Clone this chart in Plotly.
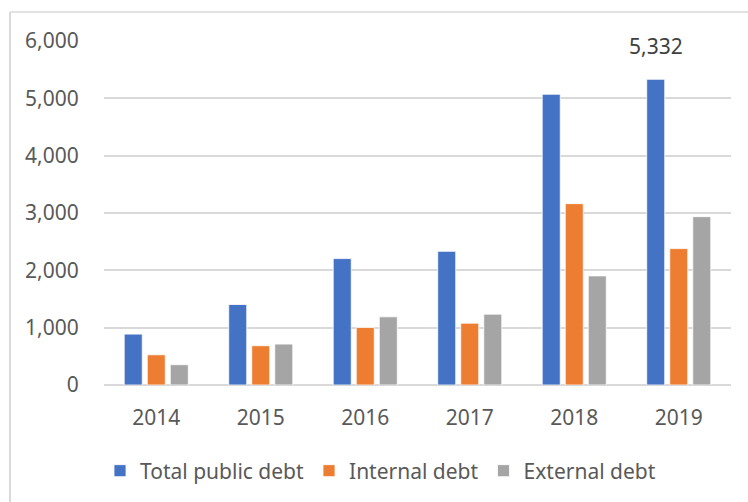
import plotly.graph_objects as go

years = ["2014", "2015", "2016", "2017", "2018", "2019"]
total_debt = [888, 1404, 2205, 2332, 5071, 5332]
internal_debt = [527, 685, 1004, 1079, 3163, 2379]
external_debt = [354, 714, 1189, 1236, 1903, 2936]
series_names = ["Total public debt", "Internal debt", "External debt"]
colors = ["#4472C4", "#ED7D31", "#A5A5A5"]
y_ticks = [0, 1000, 2000, 3000, 4000, 5000, 6000]

W, H = 748, 502
L, R, T, B = 104, 17, 41, 116
pw, ph = W - L - R, H - T - B

def px_x(x):
    return (x - L) / pw

def px_y(y):
    return (H - B - y) / ph

fig = go.Figure()
for name, vals, c in zip(series_names, [total_debt, internal_debt, external_debt], colors):
    fig.add_trace(go.Bar(
        x=years, y=vals, name=name,
        marker=dict(color=c, line=dict(color="white", width=0.8)),
    ))

font_family = "Noto Sans"
gray = "#595959"

# data label for the last total value (category index of the last year)
fig.add_annotation(
    x=len(years) - 1, y=total_debt[-1], xref="x", yref="y",
    text=f"{total_debt[-1]:,}", showarrow=False,
    xshift=-23, yshift=17, yanchor="bottom",
    font=dict(family=font_family, size=21, color="#404040"),
)

# chart frame (light gray border)
fig.add_shape(type="line", xref="paper", yref="paper",
              x0=px_x(10), x1=px_x(760), y0=px_y(12), y1=px_y(12),
              line=dict(color="#D9D9D9", width=1.5))
fig.add_shape(type="line", xref="paper", yref="paper",
              x0=px_x(10), x1=px_x(10), y0=px_y(12), y1=px_y(510),
              line=dict(color="#D9D9D9", width=2))

fig.update_layout(
    width=W, height=H,
    margin=dict(l=L, r=R, t=T, b=B, pad=0),
    paper_bgcolor="white", plot_bgcolor="white",
    barmode="group", bargap=0.339, bargroupgap=0.217,
    font=dict(family=font_family, size=21, color=gray),
    showlegend=True,
    legend=dict(
        orientation="h", x=0.5 - 37 / pw, xanchor="center",
        y=px_y(471), yanchor="middle",
        font=dict(family=font_family, size=21, color=gray),
        bgcolor="rgba(0,0,0,0)",
    ),
    xaxis=dict(
        type="category", range=[-0.5, 5.5],
        showgrid=False, showline=False, zeroline=False,
        ticks="outside", ticklen=14, tickcolor="rgba(0,0,0,0)",
        tickfont=dict(family=font_family, size=21, color=gray),
    ),
    yaxis=dict(
        range=[0, 6000], tickvals=y_ticks, tickformat=",",
        showgrid=True, gridcolor="#D9D9D9", gridwidth=1.5,
        zeroline=True, zerolinecolor="#D9D9D9", zerolinewidth=1.5,
        showline=False,
        ticks="outside", ticklen=20, tickcolor="rgba(0,0,0,0)",
        tickfont=dict(family=font_family, size=21, color=gray),
    ),
)

fig.write_html("out.html")
